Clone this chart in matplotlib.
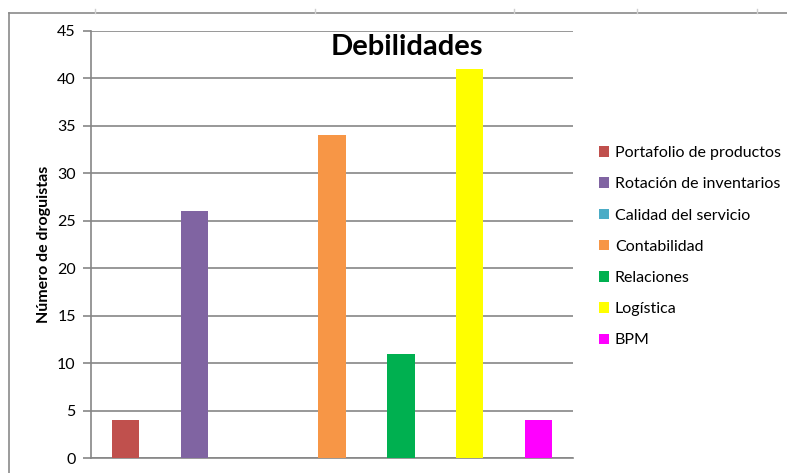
import matplotlib.pyplot as plt
from matplotlib.lines import Line2D
from matplotlib.patches import Patch

categories = ["Portafolio de productos", "Rotación de inventarios", "Calidad del servicio",
              "Contabilidad", "Relaciones", "Logística", "BPM"]
values = [4, 26, 0, 34, 11, 41, 4]
colors = ["#C0504D", "#8064A2", "#4BACC6", "#F79646", "#00B050", "#FFFF00", "#FF00FF"]

plt.rcParams["font.family"] = ["Lato", "DejaVu Sans"]
grid_col = "#868686"

fig = plt.figure(figsize=(7.87, 4.73), dpi=100)
ax = fig.add_axes([91 / 787, 15 / 473, 482 / 787, 427 / 473])

x = range(len(values))
ax.bar(x, values, width=0.4, color=colors, zorder=3)

ax.set_xlim(-0.5, len(values) - 0.5)
ax.set_ylim(0, 45)
ax.set_yticks(range(0, 46, 5))
ax.set_xticks([])
ax.yaxis.grid(True, color=grid_col, linewidth=1.2, zorder=0)
for s in ["top", "right"]:
    ax.spines[s].set_visible(False)
for s in ["left", "bottom"]:
    ax.spines[s].set_color(grid_col)
    ax.spines[s].set_linewidth(1.2)
ax.tick_params(axis="y", colors=grid_col, length=6, width=1.2, labelcolor="black",
               labelsize=11.5, pad=5)
ax.set_ylabel("Número de droguistas", fontsize=11.5, fontweight="bold", labelpad=4)

fig.text(407 / 787, 1 - 47 / 473, "Debilidades", fontsize=21, fontweight="bold",
         ha="center", va="center")

handles = [Patch(facecolor=c, edgecolor="none") for c in colors]
fig.legend(handles, categories, loc="upper left", bbox_to_anchor=(599 / 787, 1 - 146 / 473),
           frameon=False, fontsize=11.5, handlelength=0.65, handleheight=0.65,
           handletextpad=0.35, labelspacing=1.08, borderaxespad=0, borderpad=0)

# outer sheet border
fig.add_artist(Line2D([9 / 787, 1], [1 - 13 / 473, 1 - 13 / 473], color="#8a8a8a", lw=1.2))
fig.add_artist(Line2D([9 / 787, 9 / 787], [0, 1 - 13 / 473], color="#8a8a8a", lw=1.2))
for px in [95, 315, 514, 637, 757]:
    fig.add_artist(Line2D([px / 787, px / 787], [1 - 13 / 473, 1 - 9 / 473],
                          color="#d0d0d0", lw=1))

fig.savefig("out.png", dpi=100)
